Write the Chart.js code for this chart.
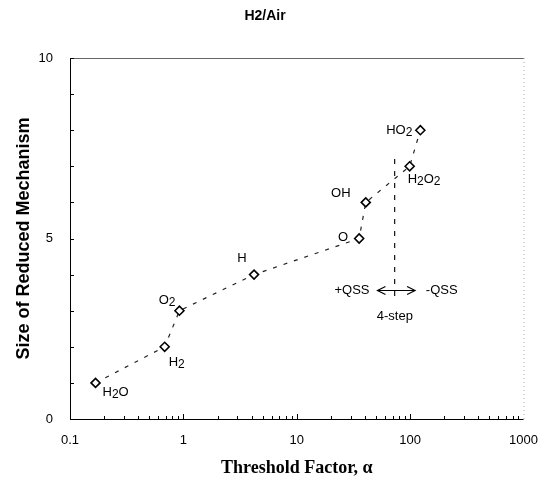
<!DOCTYPE html>
<html lang="en">
<head>
  <meta charset="UTF-8">
  <title>H2/Air</title>
  <script src="https://cdn.jsdelivr.net/npm/chart.js"></script>
  <style>
    html, body { margin: 0; padding: 0; background: #fff; }
    #wrap { width: 552px; height: 484px; }
  </style>
</head>
<body>
  <div id="wrap"><canvas id="chart" width="552" height="484"></canvas></div>

  <script>
    // species removed in turn, threshold factor and resulting mechanism size
    const species = ['H2O', 'H2', 'O2', 'H', 'O', 'OH', 'H2O2', 'HO2'];
    const alpha = [0.168, 0.684, 0.923, 4.2, 35.5, 40.6, 99, 123];
    const mechSize = [1, 2, 3, 4, 5, 6, 7, 8];

    const xTicks = [0.1, 1, 10, 100, 1000];
    const yTicks = [0, 5, 10];

    // 4-step boundary between +QSS and -QSS
    const boundaryX = [73, 73];
    const boundaryY = [7.2, 3.4];
    const arrowX = [51.5, 110.5];
    const arrowY = 3.56;
    const notes = ['+QSS', '-QSS', '4-step'];
    const noteX = [30.7, 190, 73.3];
    const noteY = [3.56, 3.56, 2.83];

    // where each species label sits relative to its marker: [dx, dy, align]
    const labelPos = [
      [7, 10, 'left'], [4, 16, 'left'], [-4, -10, 'right'], [-12, -16, 'center'],
      [-16, -1, 'center'], [-25, -9, 'center'], [-2, 13, 'left'], [-8, 0, 'right']
    ];

    const sans = "'Liberation Sans', Arial, sans-serif";

    // draws a formula like H2O2 with the digits set a little lower
    function drawFormula(ctx, text, x, y, align) {
      const parts = text.match(/[0-9]+|[^0-9]+/g);
      const big = '13px ' + sans, small = '12px ' + sans;
      let w = 0;
      parts.forEach(p => {
        ctx.font = /[0-9]/.test(p) ? small : big;
        w += ctx.measureText(p).width;
      });
      let cx = align === 'left' ? x : align === 'right' ? x - w : x - w / 2;
      ctx.textAlign = 'left';
      ctx.textBaseline = 'middle';
      parts.forEach(p => {
        const sub = /[0-9]/.test(p);
        ctx.font = sub ? small : big;
        ctx.fillText(p, cx, sub ? y + 2 : y);
        cx += ctx.measureText(p).width;
      });
    }

    const decor = {
      id: 'decor',
      afterDatasetsDraw(chart) {
        const { ctx, chartArea: a, scales: { x, y } } = chart;
        ctx.save();

        // frame: solid left/bottom, faint top/right
        ctx.lineWidth = 1;
        ctx.strokeStyle = '#000';
        ctx.beginPath();
        ctx.moveTo(a.left + 0.5, a.top);
        ctx.lineTo(a.left + 0.5, a.bottom + 0.5);
        ctx.lineTo(a.right, a.bottom + 0.5);
        ctx.stroke();
        ctx.strokeStyle = '#666';
        ctx.beginPath();
        ctx.moveTo(a.left, a.top + 0.5);
        ctx.lineTo(a.right + 0.5, a.top + 0.5);
        ctx.stroke();
        ctx.strokeStyle = '#aaa';
        ctx.setLineDash([1, 3]);
        ctx.beginPath();
        ctx.moveTo(a.right + 0.5, a.top);
        ctx.lineTo(a.right + 0.5, a.bottom);
        ctx.stroke();
        ctx.setLineDash([]);

        // inward ticks
        ctx.strokeStyle = '#000';
        ctx.beginPath();
        for (let d = 0.1; d < 1000; d *= 10) {
          for (let m = 1; m <= 9; m++) {
            const px = Math.round(x.getPixelForValue(d * m)) + 0.5;
            ctx.moveTo(px, a.bottom);
            ctx.lineTo(px, a.bottom - (m === 1 ? 5 : 3));
          }
        }
        for (let v = 0; v <= 10; v++) {
          const py = Math.round(y.getPixelForValue(v)) + 0.5;
          ctx.moveTo(a.left, py);
          ctx.lineTo(a.left + 4, py);
        }
        ctx.stroke();

        // species labels
        ctx.fillStyle = '#000';
        species.forEach((s, i) => {
          const px = x.getPixelForValue(alpha[i]);
          const py = y.getPixelForValue(mechSize[i]);
          const [dx, dy, al] = labelPos[i];
          drawFormula(ctx, s, px + dx, py + dy, al);
        });

        // double arrow
        const x1 = x.getPixelForValue(arrowX[0]);
        const x2 = x.getPixelForValue(arrowX[1]);
        const ay = Math.round(y.getPixelForValue(arrowY)) + 0.5;
        ctx.lineWidth = 1.2;
        ctx.beginPath();
        ctx.moveTo(x1, ay);
        ctx.lineTo(x2, ay);
        ctx.moveTo(x1 + 8, ay - 4);
        ctx.lineTo(x1, ay);
        ctx.lineTo(x1 + 8, ay + 4);
        ctx.moveTo(x2 - 8, ay - 4);
        ctx.lineTo(x2, ay);
        ctx.lineTo(x2 - 8, ay + 4);
        ctx.stroke();

        ctx.font = '13px ' + sans;
        ctx.textAlign = 'center';
        ctx.textBaseline = 'middle';
        notes.forEach((t, i) => {
          ctx.fillText(t, x.getPixelForValue(noteX[i]), y.getPixelForValue(noteY[i]));
        });

        ctx.restore();
      }
    };

    new Chart(document.getElementById('chart'), {
      type: 'scatter',
      data: {
        datasets: [
          {
            data: alpha.map((v, i) => ({ x: v, y: mechSize[i] })),
            showLine: true,
            borderColor: '#222',
            borderWidth: 1.2,
            borderDash: [4, 7],
            pointStyle: 'rectRot',
            pointRadius: 4.5,
            pointBorderWidth: 1.6,
            pointBorderColor: '#000',
            pointBackgroundColor: '#fff'
          },
          {
            data: boundaryX.map((v, i) => ({ x: v, y: boundaryY[i] })),
            showLine: true,
            borderColor: '#111',
            borderWidth: 1.2,
            borderDash: [5, 7],
            pointRadius: 0
          }
        ]
      },
      options: {
        responsive: false,
        animation: false,
        devicePixelRatio: 1,
        layout: { padding: { left: 0, right: 22, top: 0, bottom: 0 } },
        plugins: {
          legend: { display: false },
          tooltip: { enabled: false },
          title: {
            display: true,
            text: 'H2/Air',
            color: '#000',
            font: { family: sans, size: 14, weight: 'bold' },
            padding: { top: 8, bottom: 33.2 }
          }
        },
        scales: {
          x: {
            type: 'logarithmic',
            min: 0.1,
            max: 1000,
            afterBuildTicks: s => { s.ticks = xTicks.map(v => ({ value: v })); },
            afterFit: s => { s.height = 65; },
            grid: { display: false, drawTicks: false },
            border: { display: false },
            ticks: {
              autoSkip: false,
              maxRotation: 0,
              padding: 14,
              color: '#000',
              font: { family: sans, size: 13 },
              callback: v => String(v)
            },
            title: {
              display: true,
              text: 'Threshold Factor, α',
              color: '#000',
              font: { family: "'Liberation Serif', 'Times New Roman', serif", size: 18, weight: 'bold' },
              padding: { top: 0, bottom: 5 }
            }
          },
          y: {
            min: 0,
            max: 10,
            afterBuildTicks: s => { s.ticks = yTicks.map(v => ({ value: v })); },
            afterFit: s => { s.width = 70; },
            grid: { display: false, drawTicks: false },
            border: { display: false },
            ticks: {
              padding: 17,
              color: '#000',
              font: { family: sans, size: 13 }
            },
            title: {
              display: true,
              text: 'Size of Reduced Mechanism',
              color: '#000',
              font: { family: sans, size: 18, weight: 'bold' },
              padding: { top: 13, bottom: 0 }
            }
          }
        }
      },
      plugins: [decor]
    });
  </script>
</body>
</html>
